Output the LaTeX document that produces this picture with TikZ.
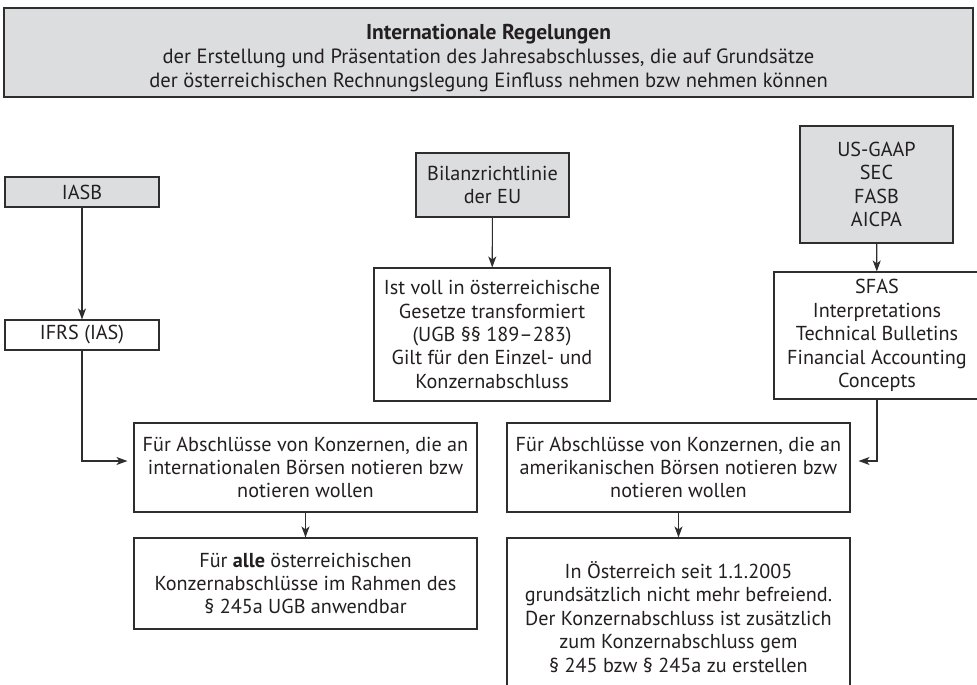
\documentclass[tikz,border=0pt]{standalone}
\usepackage{fontspec}
\setmainfont{PT Sans}
\usetikzlibrary{arrows.meta}
\definecolor{boxgray}{HTML}{DCDDDE}
\definecolor{linegray}{HTML}{2E2E2E}
\definecolor{textgray}{HTML}{231F20}
\begin{document}
\begin{tikzpicture}[x=1pt,y=-1pt,
  every node/.style={font=\fontsize{20.2}{23.4}\selectfont, text=textgray, align=center, inner sep=0pt},
  plainbox/.style={draw=linegray, line width=1.1pt, fill=white},
  graybox/.style={draw=linegray, line width=1.1pt, fill=boxgray},
  arr/.style={draw=linegray, line width=1.1pt, -{Stealth[length=11pt,width=8pt,inset=3pt]}},
  ]
\clip (0,0) rectangle (977,685);
\fill[white] (0,0) rectangle (977,685);

\node[graybox, minimum width=969pt, minimum height=89pt] (title) at (488.5,52.5) {};
\node[font=\fontsize{20.6}{24}\selectfont] (titletext) at (488.5,58) {{\bfseries\fontsize{21.5}{24}\selectfont Internationale Regelungen}\\
der Erstellung und Präsentation des Jahresabschlusses, die auf Grundsätze\\
der österreichischen Rechnungslegung Einfluss nehmen bzw nehmen können};

\node[graybox, minimum width=154pt, minimum height=30pt] (iasb) at (82,192) {IASB};
\node[plainbox, minimum width=154pt, minimum height=30pt] (ifrs) at (82,335) {IFRS (IAS)};

\node[graybox, minimum width=153pt, minimum height=64pt] (bilanz) at (492.5,185) {Bilanzrichtlinie\\der EU};
\node[plainbox, minimum width=236pt, minimum height=133pt] (istvoll) at (492,334.5) {Ist voll in österreichische\\Gesetze transformiert\\(UGB §§ 189–283)\\Gilt für den Einzel- und\\Konzernabschluss};

\node[graybox, minimum width=153pt, minimum height=117pt] (usgaap) at (876.5,184.5) {US-GAAP\\SEC\\FASB\\AICPA};
\node[plainbox, minimum width=206pt, minimum height=127pt] (sfas) at (877,335.5) {SFAS\\Interpretations\\Technical Bulletins\\Financial Accounting\\Concepts};

\node[plainbox, minimum width=343pt, minimum height=89pt] (lmid) at (305.5,467.5) {Für Abschlüsse von Konzernen, die an\\internationalen Börsen notieren bzw\\notieren wollen};
\node[plainbox, minimum width=343pt, minimum height=91pt] (llow) at (305.5,583.5) {Für {\bfseries alle} österreichischen\\Konzernabschlüsse im Rahmen des\\§ 245a UGB anwendbar};

\node[plainbox, minimum width=343pt, minimum height=89pt] (rmid) at (678.5,467.5) {Für Abschlüsse von Konzernen, die an\\amerikanischen Börsen notieren bzw\\notieren wollen};
\node[plainbox, minimum width=343pt, minimum height=158pt] (rlow) at (678.5,617) {In Österreich seit 1.1.2005\\grundsätzlich nicht mehr befreiend.\\Der Konzernabschluss ist zusätzlich\\zum Konzernabschluss gem\\§ 245 bzw § 245a zu erstellen};

\draw[arr] (iasb) -- (ifrs);
\draw[arr] (ifrs.south) |- ([xshift=-6pt,yshift=6.5pt]lmid.west);
\draw[arr] (bilanz) -- (istvoll);
\draw[arr] (usgaap) -- (sfas);
\draw[arr] (sfas.south) |- ([xshift=8pt,yshift=6.5pt]rmid.east);
\draw[arr] (lmid) -- (llow);
\draw[arr] (rmid) -- (rlow);
\end{tikzpicture}
\end{document}
